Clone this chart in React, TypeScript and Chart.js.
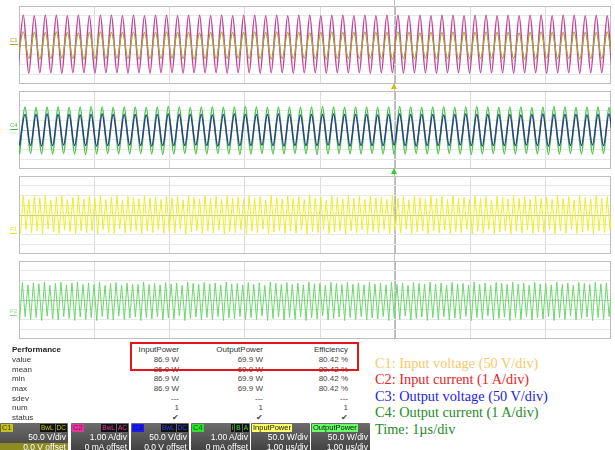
import React, { useEffect, useRef } from "react";
import { Chart, registerables } from "chart.js";
Chart.register(...registerables);

// ---------- time base (µs) ----------
const TIME_SPAN_US = 7.866;
const PERIOD_US = 0.1464; // one cycle of the 6.78 MHz carrier
const C_FIRST_PEAK_US = 0.057;
const C34_FIRST_PEAK_US = 0.08;
const F1_FIRST_PEAK_US = 0.057;
const F2_FIRST_PEAK_US = 0.045;

// ---------- C1 input voltage (div) ----------
const c1Tops = [1.35,1.3,1.3,1.35,1.3,1.25,1.3,1.35,1.3,1.3,1.35,
  1.3,1.3,1.35,1.3,1.3,1.25,1.3,1.35,1.3,1.3,1.35,
  1.3,1.35,1.3,1.3,1.25,1.3,1.35,1.3,1.3,1.35,1.3,
  1.3,1.35,1.3,1.25,1.3,1.3,1.35,1.3,1.3,1.35,1.3,
  1.3,1.25,1.3,1.35,1.3,1.3,1.35,1.3,1.3,1.35,1.3];
const c1Bottoms = [-1.4,-1.4,-1.45,-1.4,-1.35,-1.4,-1.45,-1.4,-1.4,-1.35,-1.4,
  -1.45,-1.4,-1.4,-1.35,-1.4,-1.45,-1.4,-1.4,-1.4,-1.35,-1.4,
  -1.4,-1.45,-1.4,-1.4,-1.35,-1.4,-1.45,-1.4,-1.4,-1.4,-1.35,
  -1.4,-1.45,-1.4,-1.4,-1.35,-1.4,-1.4,-1.45,-1.4,-1.4,-1.35,
  -1.4,-1.4,-1.45,-1.4,-1.35,-1.4,-1.4,-1.45,-1.4,-1.4,-1.4];

// ---------- C2 input current (div) ----------
const c2Tops = [3.05,3.0,3.05,3.05,3.0,3.05,3.0,3.05,3.05,3.0,3.05,
  3.0,3.05,3.05,3.0,3.05,3.05,3.0,3.05,3.0,3.05,3.05,
  3.0,3.05,3.0,3.05,3.05,3.0,3.05,3.05,3.0,3.05,3.0,
  3.05,3.05,3.0,3.05,3.0,3.05,3.05,3.0,3.05,3.05,3.0,
  3.05,3.0,3.05,3.05,3.0,3.05,3.05,3.0,3.05,3.0,3.05];
const c2Bottoms = [-2.85,-2.9,-2.85,-2.85,-2.9,-2.85,-2.85,-2.9,-2.85,-2.85,-2.9,
  -2.85,-2.9,-2.85,-2.85,-2.9,-2.85,-2.85,-2.85,-2.9,-2.85,-2.85,
  -2.9,-2.85,-2.85,-2.9,-2.85,-2.85,-2.9,-2.85,-2.85,-2.85,-2.9,
  -2.85,-2.85,-2.9,-2.85,-2.85,-2.9,-2.85,-2.85,-2.9,-2.85,-2.85,
  -2.85,-2.9,-2.85,-2.85,-2.9,-2.85,-2.85,-2.9,-2.85,-2.85,-2.9];

// ---------- C3 output voltage (div) ----------
const c3Tops = [1.6,1.6,1.65,1.6,1.6,1.55,1.6,1.65,1.6,1.6,1.6,
  1.55,1.6,1.65,1.6,1.6,1.6,1.55,1.6,1.65,1.6,1.6,
  1.6,1.65,1.6,1.55,1.6,1.6,1.65,1.6,1.6,1.6,1.55,
  1.6,1.65,1.6,1.6,1.6,1.55,1.6,1.65,1.6,1.6,1.6,
  1.6,1.55,1.6,1.65,1.6,1.6,1.6,1.55,1.6,1.65,1.6];
const c3Bottoms = [-1.6,-1.6,-1.65,-1.6,-1.55,-1.6,-1.6,-1.65,-1.6,-1.6,-1.55,
  -1.6,-1.65,-1.6,-1.6,-1.6,-1.55,-1.6,-1.65,-1.6,-1.6,-1.6,
  -1.55,-1.6,-1.65,-1.6,-1.6,-1.6,-1.55,-1.6,-1.65,-1.6,-1.6,
  -1.6,-1.55,-1.6,-1.65,-1.6,-1.6,-1.6,-1.55,-1.6,-1.65,-1.6,
  -1.6,-1.6,-1.55,-1.6,-1.65,-1.6,-1.6,-1.6,-1.55,-1.6,-1.65];

// ---------- C4 output current (div) ----------
const c4Tops = [2.35,2.3,2.35,2.35,2.3,2.35,2.4,2.35,2.3,2.35,2.35,
  2.3,2.35,2.4,2.35,2.3,2.35,2.35,2.3,2.35,2.4,2.35,
  2.3,2.35,2.35,2.3,2.35,2.4,2.35,2.3,2.35,2.35,2.3,
  2.35,2.4,2.35,2.3,2.35,2.35,2.3,2.35,2.4,2.35,2.3,
  2.35,2.35,2.3,2.35,2.4,2.35,2.3,2.35,2.35,2.3,2.35];
const c4Bottoms = [-2.45,-2.4,-2.45,-2.45,-2.4,-2.45,-2.5,-2.45,-2.4,-2.45,-2.45,
  -2.4,-2.45,-2.5,-2.45,-2.4,-2.45,-2.45,-2.4,-2.45,-2.5,-2.45,
  -2.4,-2.45,-2.45,-2.4,-2.45,-2.5,-2.45,-2.4,-2.45,-2.45,-2.4,
  -2.45,-2.5,-2.45,-2.4,-2.45,-2.45,-2.4,-2.45,-2.5,-2.45,-2.4,
  -2.45,-2.45,-2.4,-2.45,-2.5,-2.45,-2.4,-2.45,-2.45,-2.4,-2.45];

// ---------- F1 input power (div, twice the carrier frequency) ----------
const f1Tops = [2.0,1.6,1.9,1.75,2.0,1.55,1.85,1.95,1.6,1.8,2.0,1.65,
  1.9,1.7,2.0,1.6,1.85,1.95,1.55,1.9,1.8,1.65,2.0,1.7,
  1.85,1.6,1.95,1.75,1.9,1.55,2.0,1.8,1.65,1.95,1.7,1.9,
  1.6,2.0,1.75,1.85,1.6,1.95,1.7,1.9,1.55,2.0,1.8,1.65,
  1.95,1.7,1.9,1.6,2.0,1.75,1.85,1.55,1.95,1.8,1.65,2.0,
  1.7,1.9,1.6,1.95,1.75,1.85,1.6,2.0,1.7,1.9,1.55,1.95,
  1.8,1.65,2.0,1.7,1.9,1.6,1.95,1.75,1.85,1.6,2.0,1.7,
  1.9,1.55,1.95,1.8,1.65,2.0,1.7,1.9,1.6,1.95,1.75,1.85,
  1.6,2.0,1.7,1.9,1.55,1.95,1.8,1.65,2.0,1.7,1.9,1.6];
const f1Bottoms = [-1.9,-1.5,-1.8,-1.65,-1.95,-1.45,-1.75,-1.9,-1.55,-1.7,-1.95,-1.6,
  -1.85,-1.6,-1.95,-1.5,-1.8,-1.9,-1.45,-1.85,-1.7,-1.6,-1.95,-1.65,
  -1.8,-1.5,-1.9,-1.7,-1.85,-1.45,-1.95,-1.75,-1.6,-1.9,-1.65,-1.85,
  -1.55,-1.95,-1.7,-1.8,-1.5,-1.9,-1.65,-1.85,-1.45,-1.95,-1.75,-1.6,
  -1.9,-1.65,-1.85,-1.55,-1.95,-1.7,-1.8,-1.5,-1.9,-1.75,-1.6,-1.95,
  -1.65,-1.85,-1.55,-1.9,-1.7,-1.8,-1.5,-1.95,-1.65,-1.85,-1.45,-1.9,
  -1.75,-1.6,-1.95,-1.65,-1.85,-1.55,-1.9,-1.7,-1.8,-1.5,-1.95,-1.65,
  -1.85,-1.5,-1.9,-1.75,-1.6,-1.95,-1.65,-1.85,-1.55,-1.9,-1.7,-1.8,
  -1.5,-1.95,-1.65,-1.85,-1.45,-1.9,-1.75,-1.6,-1.95,-1.65,-1.85,-1.55];

// ---------- F2 output power (div, twice the carrier frequency) ----------
const f2Tops = [1.8,1.55,1.75,1.65,1.85,1.5,1.7,1.8,1.55,1.75,1.85,1.6,
  1.75,1.6,1.85,1.5,1.7,1.8,1.55,1.75,1.65,1.6,1.85,1.6,
  1.7,1.55,1.8,1.65,1.75,1.5,1.85,1.7,1.6,1.8,1.65,1.75,
  1.55,1.85,1.65,1.7,1.55,1.8,1.6,1.75,1.5,1.85,1.7,1.6,
  1.8,1.6,1.75,1.55,1.85,1.65,1.7,1.5,1.8,1.7,1.6,1.85,
  1.6,1.75,1.55,1.8,1.65,1.7,1.55,1.85,1.6,1.75,1.5,1.8,
  1.7,1.6,1.85,1.65,1.75,1.55,1.8,1.65,1.7,1.55,1.85,1.6,
  1.75,1.5,1.8,1.7,1.6,1.85,1.65,1.75,1.55,1.8,1.65,1.7,
  1.55,1.85,1.6,1.75,1.5,1.8,1.7,1.6,1.85,1.65,1.75,1.55];
const f2Bottoms = [-2.1,-1.7,-2.0,-1.8,-2.1,-1.65,-1.95,-2.05,-1.7,-1.9,-2.1,-1.75,
  -2.0,-1.8,-2.1,-1.7,-1.95,-2.05,-1.65,-2.0,-1.85,-1.75,-2.1,-1.8,
  -1.95,-1.7,-2.05,-1.85,-2.0,-1.65,-2.1,-1.9,-1.75,-2.05,-1.8,-2.0,
  -1.7,-2.1,-1.85,-1.95,-1.7,-2.05,-1.8,-2.0,-1.65,-2.1,-1.9,-1.75,
  -2.05,-1.8,-2.0,-1.7,-2.1,-1.85,-1.95,-1.65,-2.05,-1.9,-1.75,-2.1,
  -1.8,-2.0,-1.7,-2.05,-1.85,-1.95,-1.7,-2.1,-1.8,-2.0,-1.65,-2.05,
  -1.9,-1.75,-2.1,-1.8,-2.0,-1.7,-2.05,-1.85,-1.95,-1.7,-2.1,-1.8,
  -2.0,-1.65,-2.05,-1.9,-1.75,-2.1,-1.8,-2.0,-1.7,-2.05,-1.85,-1.95,
  -1.7,-2.1,-1.8,-2.0,-1.65,-2.05,-1.9,-1.75,-2.1,-1.8,-2.0,-1.7];

// ---------- measurement table ----------
const statRows = ["value", "mean", "min", "max", "sdev", "num", "status"];
const measureNames = ["InputPower", "OutputPower", "Efficiency"];
const inputPowerVals = ["86.9 W", "86.9 W", "86.9 W", "86.9 W", "---", "1", "\u2714"];
const outputPowerVals = ["69.9 W", "69.9 W", "69.9 W", "69.9 W", "---", "1", "\u2714"];
const efficiencyVals = ["80.42 %", "80.42 %", "80.42 %", "80.42 %", "---", "1", "\u2714"];

// ---------- channel descriptor boxes ----------
const boxTags = ["C1", "C2", "C3", "C4", "InputPower", "OutputPower"];
const boxFlags = [["BwL", "DC"], ["BwL", "AC"], ["BwL", "DC"], ["I", "B", "A"], [], []];
const boxScale = ["50.0 V/div", "1.00 A/div", "50.0 V/div", "1.00 A/div", "50.0 W/div", "50.0 W/div"];
const boxOffset = ["0.0 V offset", "0 mA offset", "0.0 V offset", "0 mA offset", "1.00 \u00b5s/div", "1.00 \u00b5s/div"];

// ---------- legend ----------
const legendLines = [
  "C1: Input voltage (50 V/div)",
  "C2: Input current (1 A/div)",
  "C3: Output voltage (50 V/div)",
  "C4: Output current (1 A/div)",
  "Time: 1\u00b5s/div",
];

function wave(tops: number[], bottoms: number[], firstPeak: number, period: number) {
  const pts: { x: number; y: number }[] = [];
  for (let i = 0; i < tops.length; i++) {
    if (i < bottoms.length) pts.push({ x: firstPeak - period / 2 + i * period, y: bottoms[i] });
    pts.push({ x: firstPeak + i * period, y: tops[i] });
  }
  return pts;
}

const framePlugin = {
  id: "scopeFrame",
  beforeDatasetsDraw(chart: any) {
    const { ctx, chartArea } = chart;
    ctx.save();
    ctx.strokeStyle = "#bfbfbf";
    ctx.lineWidth = 1;
    ctx.strokeRect(chartArea.left + 0.5, chartArea.top + 0.5, chartArea.width - 1, chartArea.height - 1);
    ctx.restore();
  },
};

type DS = { pts: { x: number; y: number }[]; color: string; width: number; smooth: boolean };

function ScopePanel({ top, traces }: { top: number; traces: DS[] }) {
  const ref = useRef<HTMLCanvasElement | null>(null);
  useEffect(() => {
    if (!ref.current) return;
    const chart = new Chart(ref.current, {
      type: "line",
      data: {
        datasets: traces.map((t) => ({
          data: t.pts,
          borderColor: t.color,
          borderWidth: t.width,
          pointRadius: 0,
          fill: false,
          cubicInterpolationMode: t.smooth ? "monotone" : "default",
          tension: 0,
        })),
      } as any,
      options: {
        animation: false,
        responsive: false,
        devicePixelRatio: 1,
        layout: { padding: 0 },
        plugins: { legend: { display: false }, tooltip: { enabled: false } },
        events: [],
        scales: {
          x: {
            type: "linear",
            min: 0,
            max: TIME_SPAN_US,
            ticks: { display: false, stepSize: 1 },
            grid: {
              drawTicks: false,
              color: (c: any) => (c.tick && c.tick.value === 5 ? "#b8b8b8" : "#dcdcdc"),
            },
            border: { display: false },
            afterFit: (s: any) => { s.height = 0; },
          },
          y: {
            min: -4,
            max: 4,
            ticks: { display: false, stepSize: 1 },
            grid: {
              drawTicks: false,
              color: (c: any) => (c.tick && c.tick.value === 0 ? "#c2c2c2" : "#e8e8e8"),
            },
            border: { display: false },
            afterFit: (s: any) => { s.width = 0; },
          },
        },
      } as any,
      plugins: [framePlugin],
    });
    return () => chart.destroy();
  }, []);
  return (
    <div style={{ position: "absolute", left: 19, top, width: 592, height: 78 }}>
      <canvas ref={ref} width={592} height={78} style={{ display: "block" }} />
    </div>
  );
}

const tagColors = ["#c4c414", "#e2389e", "#1c1cf0", "#2ee02e", "#ffff66", "#66ff66"];
const tagText = ["#3a3a00", "#8a0a5a", "#0a0a80", "#0a600a", "#111", "#111"];
const flagColors = ["#c4c414", "#e2389e", "#3a3aff", "#2ee02e", "", ""];
const boxLeft = [0, 71, 131, 191, 251, 311];
const boxWidth = [68, 58, 58, 59, 59, 59];

export default function App() {
  const panels: { top: number; traces: DS[] }[] = [
    {
      top: 6,
      traces: [
        { pts: wave(c1Tops, c1Bottoms, C_FIRST_PEAK_US, PERIOD_US), color: "#a8a236", width: 1.3, smooth: true },
        { pts: wave(c2Tops, c2Bottoms, C_FIRST_PEAK_US, PERIOD_US), color: "#c2449c", width: 1.5, smooth: true },
      ],
    },
    {
      top: 91,
      traces: [
        { pts: wave(c3Tops, c3Bottoms, C34_FIRST_PEAK_US, PERIOD_US), color: "#2b3f8c", width: 1.5, smooth: true },
        { pts: wave(c4Tops, c4Bottoms, C34_FIRST_PEAK_US, PERIOD_US), color: "#44c244", width: 1.5, smooth: true },
      ],
    },
    {
      top: 176,
      traces: [{ pts: wave(f1Tops, f1Bottoms, F1_FIRST_PEAK_US, PERIOD_US / 2), color: "#eeee22", width: 1, smooth: false }],
    },
    {
      top: 261,
      traces: [{ pts: wave(f2Tops, f2Bottoms, F2_FIRST_PEAK_US, PERIOD_US / 2), color: "#6ad86a", width: 1, smooth: false }],
    },
  ];

  const sideLabels = [
    { text: "C1", top: 37, color: "#a8a236" },
    { text: "C4", top: 122, color: "#44c244" },
    { text: "F1", top: 226, color: "#e6e622" },
    { text: "F2", top: 308, color: "#8ada8a" },
  ];

  const rowY = [360, 369.6, 379.2, 388.8, 398.6, 408.3, 417.8];
  const colRight = [179, 263, 348];
  const colVals = [inputPowerVals, outputPowerVals, efficiencyVals];
  const legendColors = ["#f9c86a", "#e8231f", "#2323e6", "#1f8a1f", "#1f8a1f"];

  return (
    <div
      style={{
        position: "fixed",
        left: 0,
        top: 0,
        width: 615,
        height: 450,
        background: "#fff",
        overflow: "hidden",
        fontFamily: "'Liberation Sans', Arial, sans-serif",
      }}
    >
      {/* trigger line */}
      <div style={{ position: "absolute", left: 394, top: 0, width: 1, height: 340, background: "#c4c4c4" }} />
      {panels.map((p, i) => (
        <ScopePanel key={i} top={p.top} traces={p.traces} />
      ))}
      {/* trigger markers */}
      <div style={{ position: "absolute", left: 391, top: 83, width: 0, height: 0, borderLeft: "3.5px solid transparent", borderRight: "3.5px solid transparent", borderBottom: "6px solid #c8c020" }} />
      <div style={{ position: "absolute", left: 391, top: 168, width: 0, height: 0, borderLeft: "3.5px solid transparent", borderRight: "3.5px solid transparent", borderBottom: "6px solid #2ed02e" }} />
      {sideLabels.map((l, i) => (
        <div key={i} style={{ position: "absolute", left: 10, top: l.top, fontSize: 6, lineHeight: "7px", color: l.color, borderBottom: `1px solid ${l.color}` }}>
          {l.text}
        </div>
      ))}

      {/* measurement table */}
      <div style={{ position: "absolute", left: 12, top: rowY[0] - 9.6 - 5, fontSize: 8, lineHeight: "10px", fontWeight: "bold", color: "#222" }}>Performance</div>
      {statRows.map((r, i) => (
        <div key={r} style={{ position: "absolute", left: 12, top: rowY[i] - 5, fontSize: 8, lineHeight: "10px", color: "#333" }}>{r}</div>
      ))}
      {measureNames.map((m, c) => (
        <div key={m} style={{ position: "absolute", left: colRight[c] - 80, width: 80, textAlign: "right", top: rowY[0] - 9.6 - 5, fontSize: 8, lineHeight: "10px", color: "#333" }}>{m}</div>
      ))}
      {colVals.map((vals, c) =>
        vals.map((v, i) => (
          <div key={c + "-" + i} style={{ position: "absolute", left: colRight[c] - 80, width: 80, textAlign: "right", top: rowY[i] - 5, fontSize: 8, lineHeight: "10px", color: "#444" }}>{v}</div>
        ))
      )}
      <div style={{ position: "absolute", left: 130, top: 342, width: 229, height: 28.5, boxSizing: "border-box", border: "2px solid #e3141a" }} />

      {/* channel boxes */}
      {boxTags.map((t, i) => (
        <div
          key={t}
          style={{
            position: "absolute",
            left: boxLeft[i],
            top: 423,
            width: boxWidth[i],
            height: 30,
            background: "linear-gradient(#6c6c6c, #3e3e3e)",
            borderRadius: 1,
            overflow: "hidden",
            color: "#fff",
          }}
        >
          <div style={{ position: "absolute", left: 1, top: 1, height: 8, padding: "0 1px", background: tagColors[i], color: tagText[i], fontSize: 7.5, lineHeight: "8px" }}>{t}</div>
          <div style={{ position: "absolute", right: 1, top: 1, display: "flex", gap: 1 }}>
            {boxFlags[i].map((f, k) => (
              <div key={k} style={{ background: "#111", color: flagColors[i], fontSize: 6.5, lineHeight: "8px", height: 8, padding: "0 1px" }}>{f}</div>
            ))}
          </div>
          <div style={{ position: "absolute", right: 2, top: 10, fontSize: 8.5, lineHeight: "9px", textAlign: "right" }}>{boxScale[i]}</div>
          <div style={{ position: "absolute", left: 0, right: 0, top: 19.5, height: 11, background: i === 0 ? "#8e8c20" : "transparent" }} />
          <div style={{ position: "absolute", right: 2, top: 19.5, fontSize: 8.5, lineHeight: "9px", textAlign: "right" }}>{boxOffset[i]}</div>
        </div>
      ))}

      {/* legend */}
      {legendLines.map((l, i) => (
        <div
          key={l}
          style={{
            position: "absolute",
            left: 375,
            top: 363 + i * 16.5 - 8.5,
            fontFamily: "'Liberation Serif', 'Times New Roman', serif",
            fontSize: 14.3,
            lineHeight: "17px",
            color: legendColors[i],
            whiteSpace: "nowrap",
          }}
        >
          {l}
        </div>
      ))}
    </div>
  );
}
